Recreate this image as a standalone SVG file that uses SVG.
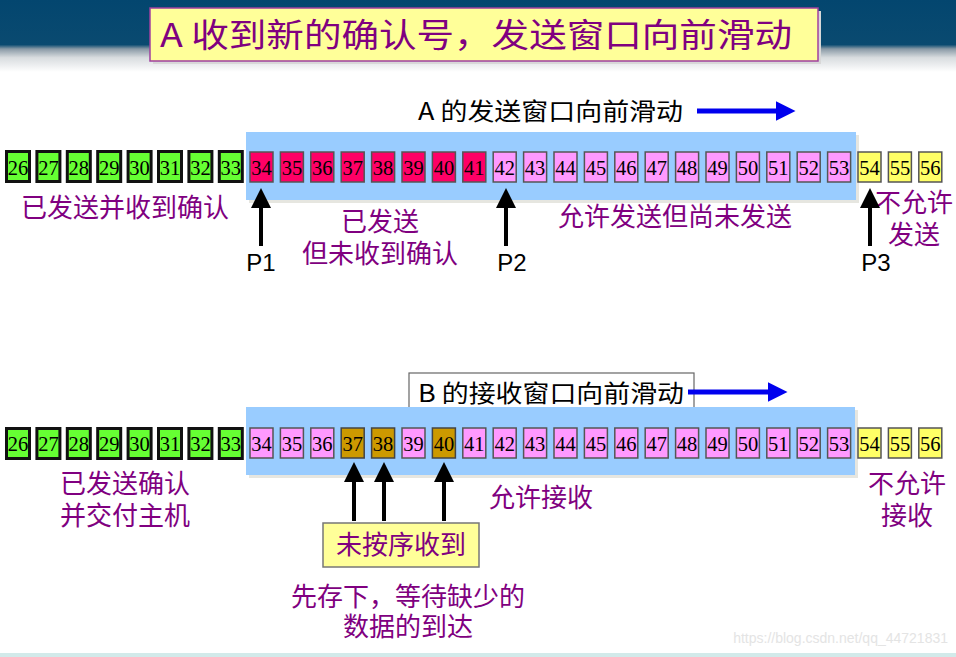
<svg xmlns="http://www.w3.org/2000/svg" width="956" height="657" viewBox="0 0 956 657">
<defs>
<linearGradient id="hdr" x1="0" y1="0" x2="0" y2="1">
<stop offset="0" stop-color="#03466f"/>
<stop offset="0.62" stop-color="#0a4a70"/>
<stop offset="0.68" stop-color="#8a9aa6"/>
<stop offset="0.8" stop-color="#d8dcdf"/>
<stop offset="1" stop-color="#ffffff"/>
</linearGradient>
<marker id="blk" markerWidth="5" markerHeight="5" refX="2.5" refY="2.5" orient="auto" markerUnits="strokeWidth">
<path d="M0,0 L5,2.5 L0,5 z" fill="#000"/>
</marker>
<marker id="blu" markerWidth="4" markerHeight="4" refX="0.5" refY="2" orient="auto" markerUnits="strokeWidth">
<path d="M0,0 L4,2 L0,4 z" fill="#0000ee"/>
</marker>
</defs>
<style>
.num{font-family:"Liberation Serif","DejaVu Serif",serif;font-size:20.5px;fill:#000;text-anchor:middle}
.g{fill:#66ff33;stroke:#111;stroke-width:3}
.r{fill:#ff0066;stroke:#555;stroke-width:1.5}
.p{fill:#ff99ff;stroke:#555;stroke-width:1.5}
.y{fill:#ffff66;stroke:#555;stroke-width:1.5}
.b{fill:#cc9900;stroke:#444;stroke-width:1.5}
.lab{font-family:"Noto Sans CJK SC","Noto Sans",sans-serif;font-size:26px;fill:#800080;text-anchor:middle}
.blk{font-family:"Noto Sans CJK SC","Liberation Sans",sans-serif;font-size:24px;fill:#000}
.ptr{font-family:"Liberation Sans","Noto Sans",sans-serif;font-size:24px;fill:#000;text-anchor:middle}
.win{fill:#99ccff}
.ar{stroke:#000;stroke-width:4;fill:none;marker-end:url(#blk)}
.bar{stroke:#0000ee;stroke-width:5;fill:none;marker-end:url(#blu)}
</style>
<rect width="956" height="657" fill="#fff"/>
<rect x="0" y="0" width="956" height="72" fill="url(#hdr)"/>
<rect x="0" y="653" width="956" height="4" fill="#d2eaea"/>
<g id="title">
<rect x="153" y="11" width="668" height="53" fill="#d8d8d8"/>
<rect x="150" y="8" width="668" height="53" fill="#ffff99" stroke="#a0409f" stroke-width="1.5"/>
<text x="160" y="47" font-family="Noto Sans CJK SC,Liberation Sans,sans-serif" font-size="33" fill="#800080" textLength="632" lengthAdjust="spacingAndGlyphs">A 收到新的确认号，发送窗口向前滑动</text>
</g>
<g id="sendLabel">
<text x="418" y="120" class="blk" textLength="265" lengthAdjust="spacingAndGlyphs">A 的发送窗口向前滑动</text>
</g>
<g id="sendWindow">
<rect x="249" y="135" width="610" height="68" fill="#e6e6e0"/>
<rect x="246" y="132" width="610" height="68" class="win"/>
</g>
<g id="sendRow">
<rect x="6.5" y="151.5" width="23" height="30" class="g"/><text x="18" y="175" class="num">26</text>
<rect x="36.9" y="151.5" width="23" height="30" class="g"/><text x="48.4" y="175" class="num">27</text>
<rect x="67.3" y="151.5" width="23" height="30" class="g"/><text x="78.8" y="175" class="num">28</text>
<rect x="97.7" y="151.5" width="23" height="30" class="g"/><text x="109.2" y="175" class="num">29</text>
<rect x="128.1" y="151.5" width="23" height="30" class="g"/><text x="139.6" y="175" class="num">30</text>
<rect x="158.5" y="151.5" width="23" height="30" class="g"/><text x="170" y="175" class="num">31</text>
<rect x="188.9" y="151.5" width="23" height="30" class="g"/><text x="200.4" y="175" class="num">32</text>
<rect x="219.3" y="151.5" width="23" height="30" class="g"/><text x="230.8" y="175" class="num">33</text>
<rect x="250" y="152" width="23" height="30" class="r"/><text x="261.5" y="175" class="num">34</text>
<rect x="280.4" y="152" width="23" height="30" class="r"/><text x="291.9" y="175" class="num">35</text>
<rect x="310.8" y="152" width="23" height="30" class="r"/><text x="322.3" y="175" class="num">36</text>
<rect x="341.2" y="152" width="23" height="30" class="r"/><text x="352.7" y="175" class="num">37</text>
<rect x="371.6" y="152" width="23" height="30" class="r"/><text x="383.1" y="175" class="num">38</text>
<rect x="402" y="152" width="23" height="30" class="r"/><text x="413.5" y="175" class="num">39</text>
<rect x="432.4" y="152" width="23" height="30" class="r"/><text x="443.9" y="175" class="num">40</text>
<rect x="462.8" y="152" width="23" height="30" class="r"/><text x="474.3" y="175" class="num">41</text>
<rect x="493.2" y="152" width="23" height="30" class="p"/><text x="504.7" y="175" class="num">42</text>
<rect x="523.6" y="152" width="23" height="30" class="p"/><text x="535.1" y="175" class="num">43</text>
<rect x="554" y="152" width="23" height="30" class="p"/><text x="565.5" y="175" class="num">44</text>
<rect x="584.4" y="152" width="23" height="30" class="p"/><text x="595.9" y="175" class="num">45</text>
<rect x="614.8" y="152" width="23" height="30" class="p"/><text x="626.3" y="175" class="num">46</text>
<rect x="645.2" y="152" width="23" height="30" class="p"/><text x="656.7" y="175" class="num">47</text>
<rect x="675.6" y="152" width="23" height="30" class="p"/><text x="687.1" y="175" class="num">48</text>
<rect x="706" y="152" width="23" height="30" class="p"/><text x="717.5" y="175" class="num">49</text>
<rect x="736.4" y="152" width="23" height="30" class="p"/><text x="747.9" y="175" class="num">50</text>
<rect x="766.8" y="152" width="23" height="30" class="p"/><text x="778.3" y="175" class="num">51</text>
<rect x="797.2" y="152" width="23" height="30" class="p"/><text x="808.7" y="175" class="num">52</text>
<rect x="827.6" y="152" width="23" height="30" class="p"/><text x="839.1" y="175" class="num">53</text>
<rect x="858" y="152" width="23" height="30" class="y"/><text x="869.5" y="175" class="num">54</text>
<rect x="888.4" y="152" width="23" height="30" class="y"/><text x="899.9" y="175" class="num">55</text>
<rect x="918.8" y="152" width="23" height="30" class="y"/><text x="930.3" y="175" class="num">56</text>
</g>
<g id="sendLabels">
<text x="125" y="217" class="lab">已发送并收到确认</text>
<text class="lab"><tspan x="380" y="231">已发送</tspan><tspan x="380" y="263">但未收到确认</tspan></text>
<text x="675" y="226" class="lab">允许发送但尚未发送</text>
<text class="lab"><tspan x="914" y="212">不允许</tspan><tspan x="914" y="244">发送</tspan></text>
<text x="261" y="271" class="ptr">P1</text>
<text x="512" y="271" class="ptr">P2</text>
<text x="876" y="271" class="ptr">P3</text>
</g>
<g id="recvLabelBox">
<rect x="409" y="373" width="285" height="40" fill="#fff" stroke="#666" stroke-width="1.2"/>
<text x="418" y="402" class="blk" textLength="266" lengthAdjust="spacingAndGlyphs">B 的接收窗口向前滑动</text>
</g>
<g id="recvWindow">
<rect x="249" y="410" width="609" height="68" fill="#e6e6e0"/>
<rect x="246" y="407" width="609" height="68" class="win"/>
</g>
<g id="recvRow">
<rect x="6.5" y="428.5" width="23" height="30" class="g"/><text x="18" y="451" class="num">26</text>
<rect x="36.9" y="428.5" width="23" height="30" class="g"/><text x="48.4" y="451" class="num">27</text>
<rect x="67.3" y="428.5" width="23" height="30" class="g"/><text x="78.8" y="451" class="num">28</text>
<rect x="97.7" y="428.5" width="23" height="30" class="g"/><text x="109.2" y="451" class="num">29</text>
<rect x="128.1" y="428.5" width="23" height="30" class="g"/><text x="139.6" y="451" class="num">30</text>
<rect x="158.5" y="428.5" width="23" height="30" class="g"/><text x="170" y="451" class="num">31</text>
<rect x="188.9" y="428.5" width="23" height="30" class="g"/><text x="200.4" y="451" class="num">32</text>
<rect x="219.3" y="428.5" width="23" height="30" class="g"/><text x="230.8" y="451" class="num">33</text>
<rect x="250" y="428" width="23" height="30" class="p"/><text x="261.5" y="451" class="num">34</text>
<rect x="280.4" y="428" width="23" height="30" class="p"/><text x="291.9" y="451" class="num">35</text>
<rect x="310.8" y="428" width="23" height="30" class="p"/><text x="322.3" y="451" class="num">36</text>
<rect x="341.2" y="428" width="23" height="30" class="b"/><text x="352.7" y="451" class="num">37</text>
<rect x="371.6" y="428" width="23" height="30" class="b"/><text x="383.1" y="451" class="num">38</text>
<rect x="402" y="428" width="23" height="30" class="p"/><text x="413.5" y="451" class="num">39</text>
<rect x="432.4" y="428" width="23" height="30" class="b"/><text x="443.9" y="451" class="num">40</text>
<rect x="462.8" y="428" width="23" height="30" class="p"/><text x="474.3" y="451" class="num">41</text>
<rect x="493.2" y="428" width="23" height="30" class="p"/><text x="504.7" y="451" class="num">42</text>
<rect x="523.6" y="428" width="23" height="30" class="p"/><text x="535.1" y="451" class="num">43</text>
<rect x="554" y="428" width="23" height="30" class="p"/><text x="565.5" y="451" class="num">44</text>
<rect x="584.4" y="428" width="23" height="30" class="p"/><text x="595.9" y="451" class="num">45</text>
<rect x="614.8" y="428" width="23" height="30" class="p"/><text x="626.3" y="451" class="num">46</text>
<rect x="645.2" y="428" width="23" height="30" class="p"/><text x="656.7" y="451" class="num">47</text>
<rect x="675.6" y="428" width="23" height="30" class="p"/><text x="687.1" y="451" class="num">48</text>
<rect x="706" y="428" width="23" height="30" class="p"/><text x="717.5" y="451" class="num">49</text>
<rect x="736.4" y="428" width="23" height="30" class="p"/><text x="747.9" y="451" class="num">50</text>
<rect x="766.8" y="428" width="23" height="30" class="p"/><text x="778.3" y="451" class="num">51</text>
<rect x="797.2" y="428" width="23" height="30" class="p"/><text x="808.7" y="451" class="num">52</text>
<rect x="827.6" y="428" width="23" height="30" class="p"/><text x="839.1" y="451" class="num">53</text>
<rect x="858" y="428" width="23" height="30" class="y"/><text x="869.5" y="451" class="num">54</text>
<rect x="888.4" y="428" width="23" height="30" class="y"/><text x="899.9" y="451" class="num">55</text>
<rect x="918.8" y="428" width="23" height="30" class="y"/><text x="930.3" y="451" class="num">56</text>
</g>
<g id="recvLabels">
<text class="lab"><tspan x="125" y="493">已发送确认</tspan><tspan x="125" y="525">并交付主机</tspan></text>
<text x="541" y="507" class="lab">允许接收</text>
<text class="lab"><tspan x="907" y="493">不允许</tspan><tspan x="907" y="525">接收</tspan></text>
</g>
<g id="outOfOrder">
<rect x="323" y="523" width="156" height="44" fill="#ffff99" stroke="#777" stroke-width="1.5"/>
<text x="401" y="554" class="lab">未按序收到</text>
</g>
<g id="note">
<text class="lab"><tspan x="408" y="606">先存下，等待缺少的</tspan><tspan x="408" y="636">数据的到达</tspan></text>
</g>
<g id="connectors">
<line x1="697" y1="111" x2="778" y2="111" class="bar"/>
<line x1="688" y1="392" x2="770" y2="392" class="bar"/>
<line x1="261" y1="246" x2="261" y2="198" class="ar"/>
<line x1="506" y1="246" x2="506" y2="198" class="ar"/>
<line x1="870" y1="246" x2="870" y2="198" class="ar"/>
<line x1="354" y1="521" x2="354" y2="472" class="ar"/>
<line x1="384" y1="521" x2="384" y2="472" class="ar"/>
<line x1="444" y1="521" x2="444" y2="472" class="ar"/>
</g>
<text x="948" y="643" text-anchor="end" font-family="Liberation Sans,sans-serif" font-size="14" fill="#e4e4e4">https://blog.csdn.net/qq_44721831</text>
</svg>
